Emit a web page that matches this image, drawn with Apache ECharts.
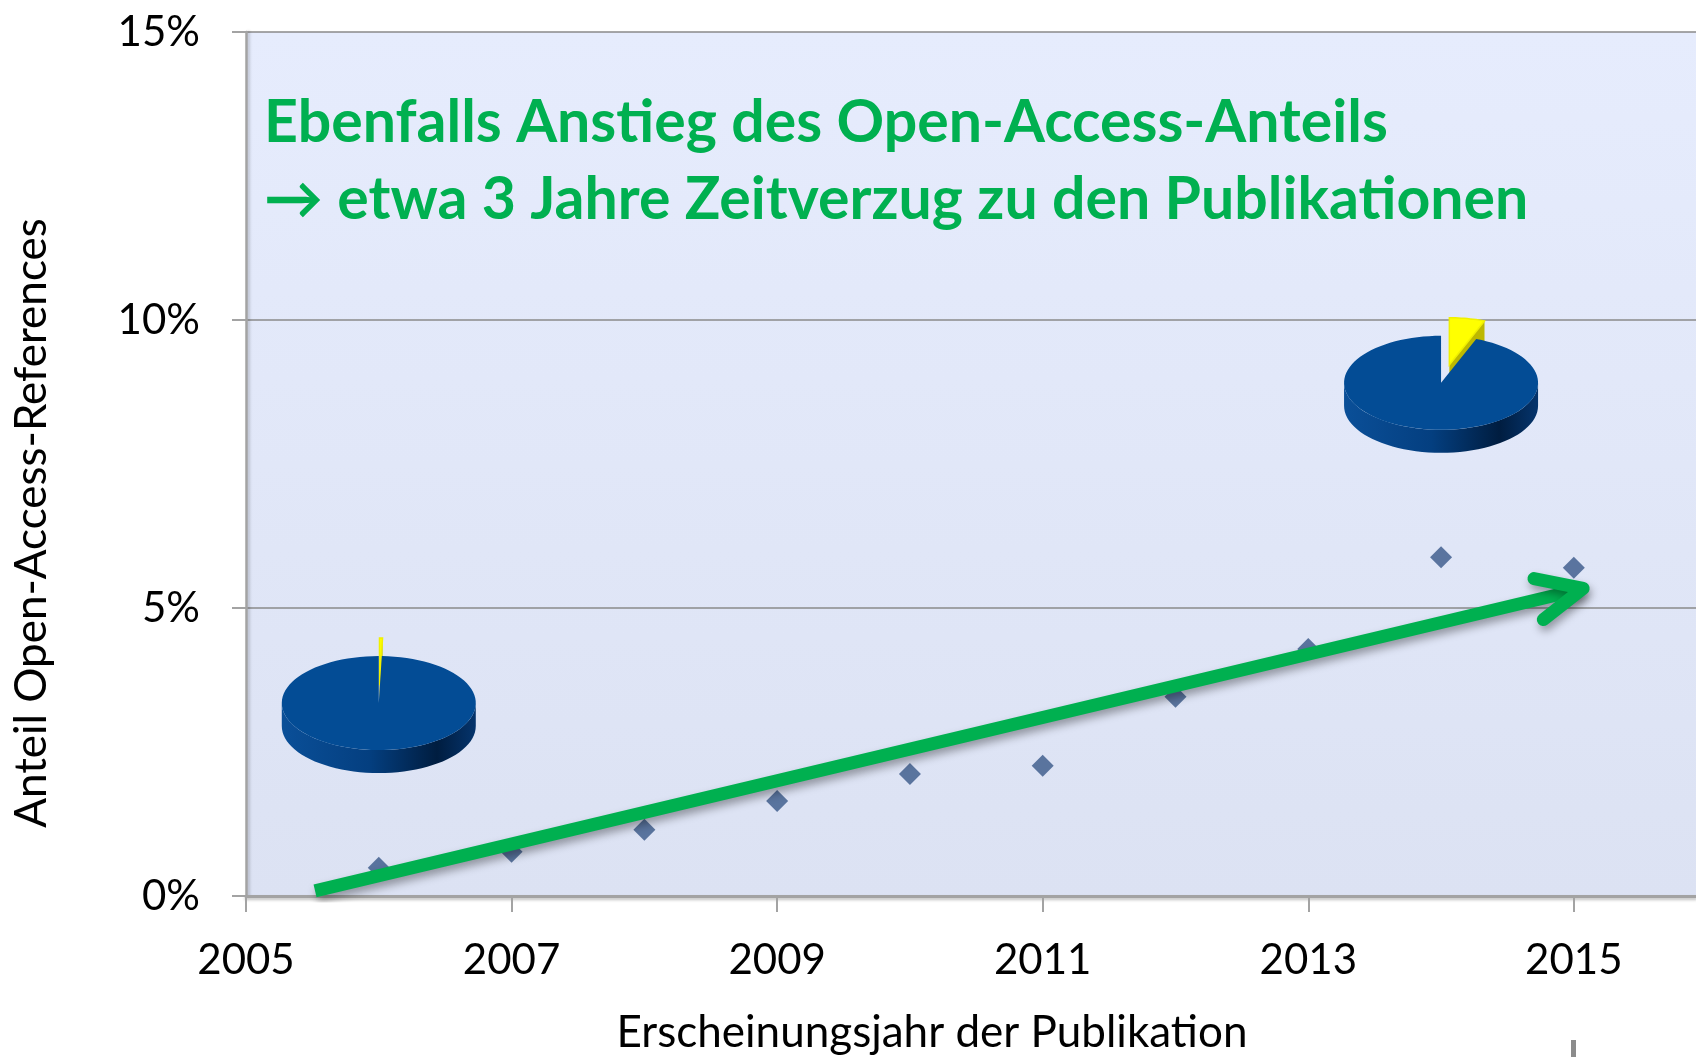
<!DOCTYPE html>
<html>
<head>
<meta charset="utf-8">
<script src="https://cdn.jsdelivr.net/npm/echarts@6/dist/echarts.min.js"></script>
<style>
  body { margin: 0; background: #fff; }
  #chart { width: 1696px; height: 1057px; }
</style>
</head>
<body>
<div id="chart"></div>
<script>
  // Anteil Open-Access-References je Erscheinungsjahr (in %)
  const years = [2006, 2007, 2008, 2009, 2010, 2011, 2012, 2013, 2014, 2015];
  const oaShare = [0.49, 0.77, 1.15, 1.65, 2.12, 2.26, 3.46, 4.29, 5.88, 5.70];

  // Tortendiagramme: Jahr, Höhe (y-Position in %), OA-Anteil
  const pieYears = [2006, 2014];
  const pieLevels = [3.35, 8.91];
  const pieShares = [0.5, 5.9];

  // Trendpfeil (Datenkoordinaten)
  const arrowLine = [[2005.52, 0.09], [2015.06, 5.33]];
  const arrowHead = [[2014.70, 5.51], [2015.07, 5.34], [2014.77, 4.80]];

  const yTicks = [0, 5, 10, 15];

  const font = 'Lato, "Open Sans", sans-serif';
  const green = '#00b050';

  const chart = echarts.init(document.getElementById('chart'));

  function renderPie(params, api) {
    const c = api.coord([api.value(0), api.value(1)]);
    const share = api.value(2) / 100;
    const rx = 97, ry = 47, th = 23;
    const t1 = share * 2 * Math.PI;
    const pt = (t, ox, oy) => [c[0] + ox + rx * Math.sin(t), c[1] + oy - ry * Math.cos(t)];
    const arc = (a, b, ox, oy, n) => {
      const pts = [];
      for (let i = 0; i <= n; i++) pts.push(pt(a + (b - a) * i / n, ox, oy));
      return pts;
    };
    const ex = 45 * Math.sin(t1 / 2), ey = -18;
    const apex = [c[0] + ex, c[1] + ey];
    const outer = pt(t1, ex, ey);
    const side = arc(Math.PI / 2, 1.5 * Math.PI, 0, 0, 48).concat(arc(1.5 * Math.PI, Math.PI / 2, 0, th, 48));
    return {
      type: 'group',
      children: [
        {
          type: 'polygon',
          shape: { points: [apex, outer, [outer[0], outer[1] + th], [apex[0], apex[1] + th]] },
          style: { fill: '#bdb800' }
        },
        {
          type: 'polygon',
          shape: { points: [apex].concat(arc(0, t1, ex, ey, 12)) },
          style: { fill: '#ffff00', stroke: '#f0f000', lineWidth: 1.5 }
        },
        {
          type: 'polygon',
          shape: { points: side },
          style: {
            fill: new echarts.graphic.LinearGradient(0, 0, 1, 0, [
              { offset: 0, color: '#0a4f98' },
              { offset: 0.45, color: '#043f80' },
              { offset: 0.8, color: '#001d40' },
              { offset: 1, color: '#05346c' }
            ])
          }
        },
        {
          type: 'polygon',
          shape: { points: [c].concat(arc(t1, 2 * Math.PI, 0, 0, 96)) },
          style: { fill: '#034c95' }
        }
      ]
    };
  }

  const option = {
    animation: false,
    grid: {
      left: 246,
      right: 0,
      top: 32,
      bottom: 161,
      show: true,
      borderWidth: 0,
      backgroundColor: new echarts.graphic.LinearGradient(0, 0, 0, 1, [
        { offset: 0, color: '#e6ecfd' },
        { offset: 1, color: '#dce2f3' }
      ])
    },
    xAxis: {
      type: 'value',
      min: 2005,
      max: 2015.92,
      interval: 2,
      axisLine: {
        lineStyle: { color: '#a3a3a3', width: 3, shadowColor: 'rgba(0,0,0,0.25)', shadowBlur: 3, shadowOffsetY: 2 }
      },
      axisTick: { show: true, inside: false, length: 16, lineStyle: { color: '#a3a3a3', width: 2 } },
      axisLabel: {
        showMaxLabel: false,
        margin: 43,
        color: '#000',
        fontSize: 42,
        fontFamily: font,
        formatter: (v) => (v % 1 === 0 ? String(v) : '')
      },
      splitLine: { show: false }
    },
    yAxis: {
      type: 'value',
      min: 0,
      max: 15,
      interval: 5,
      axisLine: {
        show: true,
        lineStyle: { color: '#a3a3a3', width: 2.5, shadowColor: 'rgba(0,0,0,0.2)', shadowBlur: 3, shadowOffsetX: 2 }
      },
      axisTick: { show: true, inside: false, length: 14, lineStyle: { color: '#a3a3a3', width: 2 } },
      axisLabel: {
        margin: 46,
        color: '#000',
        fontSize: 42,
        fontFamily: font,
        formatter: (v) => (yTicks.indexOf(v) >= 0 ? v + '%' : '')
      },
      splitLine: { show: true, lineStyle: { color: '#8a8a8a', width: 1.5 } }
    },
    graphic: [
      {
        type: 'text',
        x: 264,
        y: 123,
        style: { text: 'Ebenfalls Anstieg des Open-Access-Anteils', fill: green, fontSize: 59, fontWeight: 'bold', fontFamily: font, align: 'left', verticalAlign: 'middle' },
        z: 100
      },
      {
        type: 'text',
        x: 264,
        y: 200,
        style: { text: '→ etwa 3 Jahre Zeitverzug zu den Publikationen', fill: green, fontSize: 59, fontWeight: 'bold', fontFamily: font, align: 'left', verticalAlign: 'middle' },
        z: 100
      },
      {
        type: 'text',
        x: 932,
        y: 1033,
        style: { text: 'Erscheinungsjahr der Publikation', fill: '#000', fontSize: 44, fontFamily: font, align: 'center', verticalAlign: 'middle' }
      },
      {
        type: 'text',
        x: 32,
        y: 523,
        rotation: Math.PI / 2,
        style: { text: 'Anteil Open-Access-References', fill: '#000', fontSize: 44, fontFamily: font, align: 'center', verticalAlign: 'middle' }
      },
      {
        type: 'rect',
        shape: { x: 1571, y: 1040, width: 5, height: 17 },
        style: { fill: '#8c8c8c' }
      }
    ],
    series: [
      {
        type: 'custom',
        name: 'Torten',
        renderItem: renderPie,
        data: pieYears.map((y, i) => [y, pieLevels[i], pieShares[i]]),
        encode: { x: 0, y: 1 },
        clip: false,
        z: 3
      },
      {
        type: 'scatter',
        name: 'Anteil',
        symbol: 'diamond',
        symbolSize: 22,
        itemStyle: { color: '#385888' },
        data: years.map((y, i) => [y, oaShare[i]]),
        z: 4
      },
      {
        type: 'line',
        name: 'Trend',
        data: arrowLine,
        symbol: 'none',
        lineStyle: { color: green, width: 13, cap: 'butt', shadowColor: 'rgba(0,0,0,0.35)', shadowBlur: 8, shadowOffsetX: 2, shadowOffsetY: 5 },
        z: 5
      },
      {
        type: 'line',
        name: 'Pfeilspitze',
        data: arrowHead,
        symbol: 'none',
        lineStyle: { color: green, width: 13, cap: 'round', join: 'round', shadowColor: 'rgba(0,0,0,0.35)', shadowBlur: 8, shadowOffsetX: 2, shadowOffsetY: 5 },
        z: 5
      }
    ]
  };

  chart.setOption(option);
</script>
</body>
</html>
